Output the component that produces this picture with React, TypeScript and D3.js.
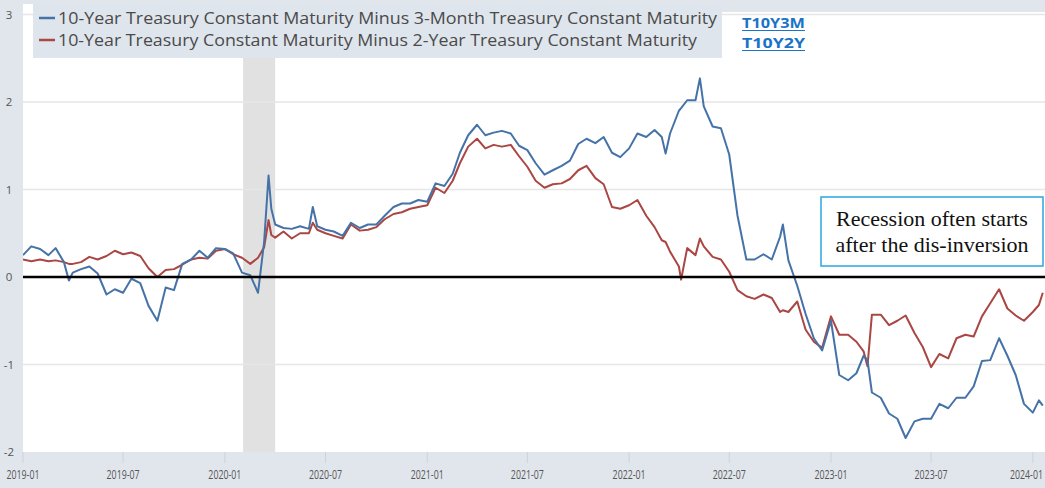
import React from "react";
import * as d3 from "d3";

const dates: string[] = [
  "2019-01-01","2019-01-16","2019-02-01","2019-02-16","2019-03-01","2019-03-16","2019-03-25","2019-04-01","2019-04-16","2019-05-01",
  "2019-05-16","2019-06-01","2019-06-16","2019-07-01","2019-07-16","2019-08-01","2019-08-16","2019-09-01","2019-09-16","2019-10-01",
  "2019-10-16","2019-11-01","2019-11-16","2019-12-01","2019-12-16","2020-01-01","2020-01-16","2020-02-01","2020-02-16","2020-03-01",
  "2020-03-12","2020-03-20","2020-03-25","2020-04-01","2020-04-16","2020-05-01","2020-05-16","2020-06-01","2020-06-08","2020-06-16",
  "2020-07-01","2020-07-16","2020-08-01","2020-08-16","2020-09-01","2020-09-16","2020-10-01","2020-10-16","2020-11-01","2020-11-16",
  "2020-12-01","2020-12-16","2021-01-01","2021-01-16","2021-02-01","2021-02-16","2021-03-01","2021-03-16","2021-04-01","2021-04-16",
  "2021-05-01","2021-05-16","2021-06-01","2021-06-16","2021-07-01","2021-07-16","2021-08-01","2021-08-16","2021-09-01","2021-09-16",
  "2021-10-01","2021-10-16","2021-11-01","2021-11-16","2021-12-01","2021-12-16","2022-01-01","2022-01-16","2022-02-01","2022-02-16",
  "2022-03-01","2022-03-08","2022-03-16","2022-04-01","2022-04-05","2022-04-16","2022-05-01","2022-05-09","2022-05-16","2022-06-01",
  "2022-06-16","2022-07-01","2022-07-16","2022-08-01","2022-08-16","2022-09-01","2022-09-16","2022-10-01","2022-10-06","2022-10-16",
  "2022-11-01","2022-11-16","2022-12-01","2022-12-16","2023-01-01","2023-01-16","2023-02-01","2023-02-16","2023-03-01","2023-03-08",
  "2023-03-16","2023-04-01","2023-04-16","2023-05-01","2023-05-16","2023-06-01","2023-06-16","2023-07-01","2023-07-16","2023-08-01",
  "2023-08-16","2023-09-01","2023-09-16","2023-10-01","2023-10-16","2023-11-01","2023-11-16","2023-12-01","2023-12-16","2024-01-01",
  "2024-01-12","2024-01-19",
];

const t10y3m: number[] = [
  0.25, 0.35, 0.32, 0.25, 0.33, 0.17, -0.04, 0.05, 0.09, 0.12,
  0.04, -0.20, -0.14, -0.18, -0.02, -0.07, -0.33, -0.50, -0.12, -0.15,
  0.15, 0.20, 0.30, 0.22, 0.33, 0.32, 0.27, 0.05, 0.02, -0.18,
  0.40, 1.16, 0.78, 0.60, 0.56, 0.55, 0.58, 0.55, 0.80, 0.58,
  0.54, 0.52, 0.47, 0.62, 0.56, 0.60, 0.60, 0.70, 0.80, 0.84,
  0.84, 0.88, 0.86, 1.07, 1.04, 1.18, 1.42, 1.62, 1.74, 1.62,
  1.65, 1.67, 1.64, 1.50, 1.45, 1.30, 1.17, 1.22, 1.27, 1.33,
  1.52, 1.58, 1.53, 1.60, 1.42, 1.37, 1.47, 1.64, 1.60, 1.68,
  1.60, 1.41, 1.64, 1.90, 1.93, 2.02, 2.02, 2.27, 1.95, 1.72,
  1.70, 1.40, 0.70, 0.20, 0.20, 0.26, 0.20, 0.46, 0.60, 0.19,
  -0.10, -0.42, -0.70, -0.84, -0.50, -1.12, -1.18, -1.10, -0.90, -0.95,
  -1.32, -1.38, -1.56, -1.62, -1.84, -1.65, -1.62, -1.62, -1.45, -1.50,
  -1.38, -1.38, -1.25, -0.96, -0.95, -0.70, -0.90, -1.12, -1.45, -1.55,
  -1.41, -1.47,
];

const t10y2y: number[] = [
  0.20, 0.18, 0.20, 0.18, 0.19, 0.17, 0.15, 0.15, 0.17, 0.23,
  0.20, 0.24, 0.30, 0.26, 0.28, 0.24, 0.10, 0.00, 0.08, 0.09,
  0.14, 0.20, 0.22, 0.21, 0.30, 0.32, 0.26, 0.22, 0.15, 0.22,
  0.34, 0.65, 0.48, 0.45, 0.52, 0.44, 0.50, 0.50, 0.62, 0.54,
  0.50, 0.47, 0.44, 0.60, 0.53, 0.54, 0.57, 0.66, 0.72, 0.74,
  0.78, 0.80, 0.82, 1.02, 0.96, 1.10, 1.30, 1.49, 1.58, 1.47,
  1.51, 1.49, 1.51, 1.38, 1.26, 1.10, 1.02, 1.06, 1.07, 1.12,
  1.22, 1.27, 1.13, 1.06, 0.80, 0.78, 0.82, 0.88, 0.70, 0.57,
  0.42, 0.40, 0.29, 0.12, -0.03, 0.33, 0.25, 0.44, 0.35, 0.23,
  0.20, 0.06, -0.15, -0.22, -0.25, -0.20, -0.24, -0.40, -0.38, -0.40,
  -0.28, -0.60, -0.74, -0.81, -0.45, -0.66, -0.66, -0.74, -0.85, -1.02,
  -0.43, -0.43, -0.55, -0.50, -0.44, -0.64, -0.80, -1.03, -0.88, -0.93,
  -0.70, -0.66, -0.68, -0.45, -0.30, -0.14, -0.36, -0.44, -0.50, -0.40,
  -0.32, -0.18,
];

const yTicks: number[] = [-2, -1, 0, 1, 2, 3];
const xTickDates: string[] = [
  "2019-01-01","2019-07-01","2020-01-01","2020-07-01","2021-01-01","2021-07-01",
  "2022-01-01","2022-07-01","2023-01-01","2023-07-01","2024-01-01",
];
const recessionStart = "2020-02-03";
const recessionEnd = "2020-04-01";

const seriesLabels: string[] = [
  "10-Year Treasury Constant Maturity Minus 3-Month Treasury Constant Maturity",
  "10-Year Treasury Constant Maturity Minus 2-Year Treasury Constant Maturity",
];
const seriesIds: string[] = ["T10Y3M", "T10Y2Y"];
const annotationLines: string[] = ["Recession often starts", "after the dis-inversion"];

const W = 1045;
const H = 488;
const L = 23;
const R = 1045;
const T = 4;
const B = 452;

const parse = d3.timeParse("%Y-%m-%d");
const fmt = d3.timeFormat("%Y-%m");

export default function App() {
  const x = d3
    .scaleTime()
    .domain([parse("2019-01-01") as Date, parse("2024-01-23") as Date])
    .range([L, R]);
  const y = d3.scaleLinear().domain([-2, 3]).range([B, 14.5]);

  const parsed = dates.map((d) => parse(d) as Date);
  const line = d3
    .line<number>()
    .x((_, i) => x(parsed[i]))
    .y((v) => y(v))
    .curve(d3.curveLinear);

  const colors = ["#4572a7", "#aa4643"];
  const bg = "#e1e6ec";
  const labelFont = "'Open Sans', 'Noto Sans', sans-serif";

  return (
    <svg
      width={W}
      height={H}
      style={{ position: "absolute", left: 0, top: 0, display: "block" }}
    >
      <defs>
        <clipPath id="plot">
          <rect x={L} y={T} width={R - L} height={B - T} />
        </clipPath>
      </defs>
      <rect x={0} y={0} width={W} height={H} fill={bg} />
      <rect x={L} y={T} width={R - L} height={B - T} fill="#ffffff" />
      <rect x={722} y={0} width={W - 722} height={12} fill={bg} />

      {/* recession shading */}
      <rect
        x={x(parse(recessionStart) as Date)}
        y={T}
        width={x(parse(recessionEnd) as Date) - x(parse(recessionStart) as Date)}
        height={B - T}
        fill="#e1e1e1"
      />

      {/* grid */}
      {yTicks
        .filter((v) => v !== 0 && v !== -2)
        .map((v) => (
          <line
            key={"g" + v}
            x1={L}
            x2={R}
            y1={y(v)}
            y2={y(v)}
            stroke="#e6e6e6"
            strokeWidth={1.5}
          />
        ))}

      {/* y labels */}
      {yTicks.map((v) => (
        <text
          key={"yl" + v}
          x={9}
          y={Math.max(y(v), 7) + 4}
          textAnchor="middle"
          fontFamily={labelFont}
          fontSize={11.5}
          fill="#555"
        >
          {v}
        </text>
      ))}

      {/* x ticks */}
      {xTickDates.map((d) => {
        const xx = x(parse(d) as Date);
        const atEdge = xx + 16.5 > W - 2;
        return (
          <g key={"xt" + d}>
            <line x1={xx} x2={xx} y1={B} y2={B + 11} stroke="#cdd3da" strokeWidth={1} />
            <text
              x={atEdge ? W - 2 : xx}
              y={479}
              textAnchor={atEdge ? "end" : "middle"}
              fontFamily={labelFont}
              fontSize={12}
              fill="#555"
              textLength={33}
              lengthAdjust="spacingAndGlyphs"
            >
              {fmt(parse(d) as Date)}
            </text>
          </g>
        );
      })}

      <g clipPath="url(#plot)">
        <path d={line(t10y2y) || ""} fill="none" stroke={colors[1]} strokeWidth={2} strokeLinejoin="round" />
        <path d={line(t10y3m) || ""} fill="none" stroke={colors[0]} strokeWidth={2} strokeLinejoin="round" />
      </g>

      {/* zero line */}
      <line x1={L} x2={R} y1={y(0)} y2={y(0)} stroke="#000" strokeWidth={2.5} />

      {/* legend */}
      <rect x={33} y={4} width={689} height={54} fill="#dfe5ec" />
      {seriesLabels.map((s, i) => (
        <g key={"lg" + i}>
          <line
            x1={39}
            x2={55}
            y1={i === 0 ? 18 : 40}
            y2={i === 0 ? 18 : 40}
            stroke={colors[i]}
            strokeWidth={2.5}
          />
          <text
            x={58}
            y={i === 0 ? 24 : 46}
            fontFamily={labelFont}
            fontSize={16.5}
            fill="#4a4a4a"
            textLength={i === 0 ? 659 : 639}
            lengthAdjust="spacingAndGlyphs"
          >
            {s}
          </text>
        </g>
      ))}
      {seriesIds.map((s, i) => (
        <g key={"id" + s}>
          <text
            x={742}
            y={i === 0 ? 28 : 48}
            fontFamily={labelFont}
            fontSize={14.5}
            fontWeight="bold"
            fill="#1b73c8"
            textLength={63}
            lengthAdjust="spacingAndGlyphs"
          >
            {s}
          </text>
          <line
            x1={742}
            x2={805}
            y1={i === 0 ? 30.5 : 50.5}
            y2={i === 0 ? 30.5 : 50.5}
            stroke="#1b73c8"
            strokeWidth={1}
          />
        </g>
      ))}

      {/* annotation */}
      <rect x={821} y={197} width={222} height={69} fill="#ffffff" stroke="#2aa6df" strokeWidth={1.5} />
      {annotationLines.map((s, i) => (
        <text
          key={"an" + i}
          x={932}
          y={i === 0 ? 226 : 252}
          textAnchor="middle"
          fontFamily="'Liberation Serif', 'Times New Roman', serif"
          fontSize={22}
          fill="#111"
        >
          {s}
        </text>
      ))}
    </svg>
  );
}
